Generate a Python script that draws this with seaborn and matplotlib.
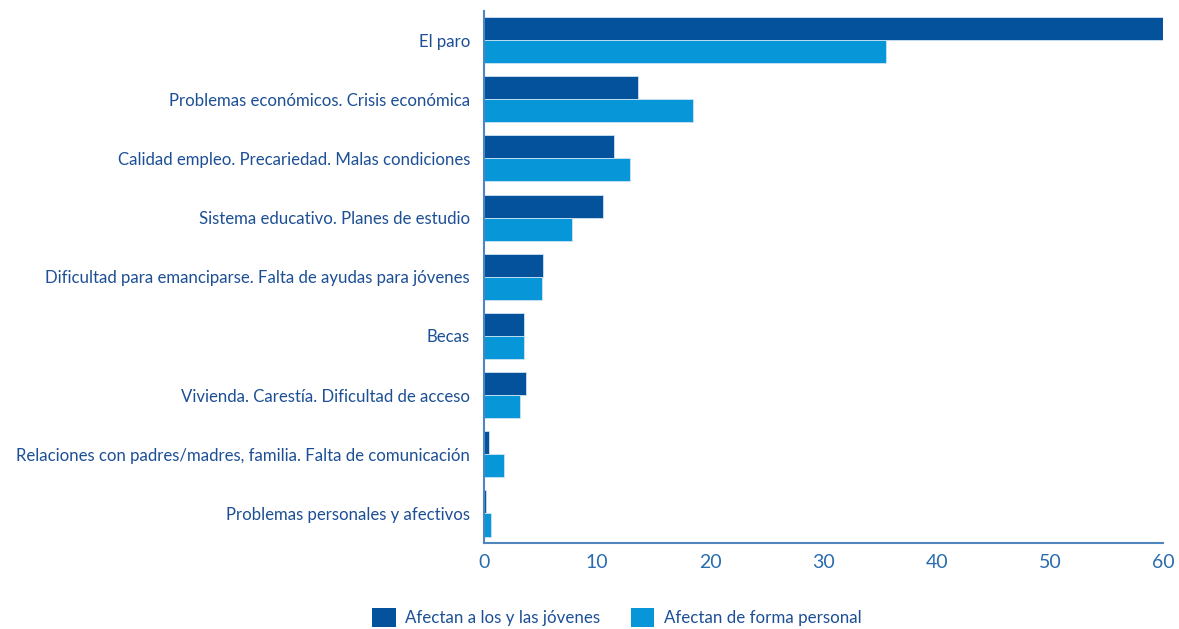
import matplotlib
matplotlib.use("Agg")
import matplotlib.pyplot as plt
from matplotlib.patches import Patch
import pandas as pd
import seaborn as sns

categories = [
    "El paro",
    "Problemas económicos. Crisis económica",
    "Calidad empleo. Precariedad. Malas condiciones",
    "Sistema educativo. Planes de estudio",
    "Dificultad para emanciparse. Falta de ayudas para jóvenes",
    "Becas",
    "Vivienda. Carestía. Dificultad de acceso",
    "Relaciones con padres/madres, familia. Falta de comunicación",
    "Problemas personales y afectivos",
]
series_names = ["Afectan a los y las jóvenes", "Afectan de forma personal"]
jovenes = [60.0, 13.6, 11.5, 10.5, 5.2, 3.5, 3.7, 0.4, 0.2]
personal = [35.5, 18.5, 12.9, 7.8, 5.1, 3.5, 3.2, 1.8, 0.6]
x_ticks = [0, 10, 20, 30, 40, 50, 60]

colors = ["#03529b", "#0797d8"]
label_color = "#1c4f95"
axis_color = "#4f86c0"

df = pd.DataFrame({
    "categoria": categories * 2,
    "serie": [series_names[0]] * len(categories) + [series_names[1]] * len(categories),
    "valor": jovenes + personal,
})

sns.set_theme(style="white")
plt.rcParams["font.family"] = ["Lato", "DejaVu Sans"]

fig = plt.figure(figsize=(11.79, 6.29), dpi=100)
ax = fig.add_axes([0.4105, 0.1367, 0.576, 0.8466])

sns.barplot(
    data=df, y="categoria", x="valor", hue="serie", order=categories,
    hue_order=series_names, palette=colors, saturation=1, orient="h",
    width=0.78, edgecolor="#cfe3f3", linewidth=0.6, legend=False, ax=ax,
)

ax.set_xlim(0, 60)
ax.set_xticks(x_ticks)
ax.set_xlabel("")
ax.set_ylabel("")
ax.tick_params(axis="x", colors="#2a6cad", labelsize=14, length=0, pad=8)
ax.tick_params(axis="y", colors=label_color, labelsize=12.1, length=0, pad=10)
for lbl in ax.get_yticklabels():
    lbl.set_color(label_color)
for side in ["top", "right"]:
    ax.spines[side].set_visible(False)
for side in ["left", "bottom"]:
    ax.spines[side].set_color(axis_color)
    ax.spines[side].set_linewidth(1.5)

handles = [Patch(facecolor=c, edgecolor="none") for c in colors]
fig.legend(
    handles, series_names, loc="upper center", bbox_to_anchor=(0.523, 0.058),
    ncol=2, frameon=False, handlelength=1.4, handleheight=1.4,
    handletextpad=0.55, columnspacing=1.8, fontsize=12.2, labelcolor=label_color,
)

fig.savefig("out.png", dpi=100)
